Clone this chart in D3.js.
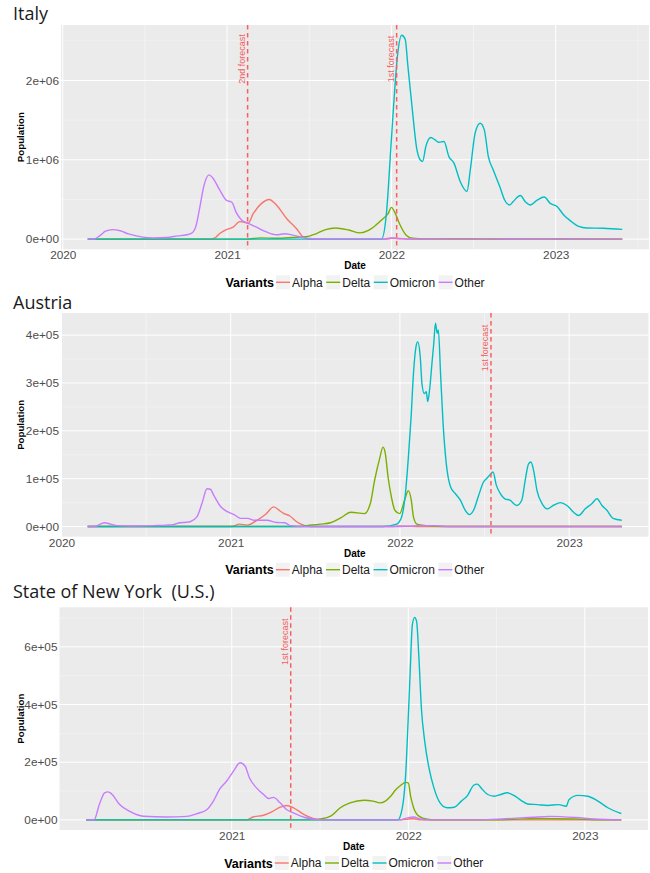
<!DOCTYPE html>
<html><head><meta charset="utf-8">
<script src="https://cdn.jsdelivr.net/npm/d3@7"></script>
<style>body{margin:0;background:#fff} svg{display:block}</style>
</head><body><svg id="chart" width="650" height="873"></svg>
<script>
// ---------- data (time in decimal years, values = population) ----------
const variants = ["Alpha", "Delta", "Omicron", "Other"];
const variantColors = ["#F8766D", "#7CAE00", "#00BFC4", "#C77CFF"];
const yearTicks = [2020, 2021, 2022, 2023];

// Italy
const italyAlpha = [[2020.152,0],[2020.90,0],[2020.93,20000],[2020.955,70000],[2020.996,120000],[2021.037,150000],[2021.077,220000],[2021.10,215000],[2021.128,200000],[2021.159,320000],[2021.21,450000],[2021.256,500000],[2021.30,430000],[2021.362,260000],[2021.423,130000],[2021.464,25000],[2021.50,3000],[2021.55,0],[2021.97,0],[2022.0,10000],[2022.05,5000],[2022.10,0],[2023.405,0]];
const italyDelta = [[2020.152,0],[2021.12,0],[2021.20,15000],[2021.30,10000],[2021.40,20000],[2021.48,30000],[2021.545,70000],[2021.60,120000],[2021.66,140000],[2021.74,115000],[2021.81,78000],[2021.86,110000],[2021.89,150000],[2021.95,260000],[2021.98,320000],[2022.0,400000],[2022.02,340000],[2022.05,190000],[2022.09,50000],[2022.13,10000],[2022.20,3000],[2022.50,5000],[2022.60,2000],[2023.405,0]];
const italyOmicron = [[2020.152,0],[2021.94,0],[2021.97,330000],[2021.996,1130000],[2022.016,1760000],[2022.037,2310000],[2022.063,2570000],[2022.084,2520000],[2022.10,2190000],[2022.125,1680000],[2022.155,1130000],[2022.175,1000000],[2022.19,980000],[2022.21,1170000],[2022.24,1280000],[2022.266,1250000],[2022.29,1220000],[2022.32,1230000],[2022.35,1040000],[2022.38,960000],[2022.42,720000],[2022.46,600000],[2022.48,870000],[2022.51,1340000],[2022.54,1460000],[2022.565,1380000],[2022.59,1040000],[2022.62,870000],[2022.66,660000],[2022.69,490000],[2022.72,430000],[2022.74,470000],[2022.785,550000],[2022.815,470000],[2022.846,430000],[2022.887,490000],[2022.93,530000],[2022.967,450000],[2023.008,410000],[2023.05,300000],[2023.09,230000],[2023.14,160000],[2023.19,140000],[2023.29,136000],[2023.405,123000]];
const italyOther = [[2020.152,0],[2020.19,2000],[2020.23,50000],[2020.26,100000],[2020.303,120000],[2020.35,105000],[2020.40,65000],[2020.486,25000],[2020.55,15000],[2020.632,20000],[2020.70,40000],[2020.754,55000],[2020.785,75000],[2020.81,160000],[2020.834,400000],[2020.86,680000],[2020.89,810000],[2020.913,770000],[2020.955,620000],[2020.996,490000],[2021.029,465000],[2021.057,330000],[2021.088,240000],[2021.126,200000],[2021.179,150000],[2021.24,90000],[2021.301,55000],[2021.352,68000],[2021.40,50000],[2021.46,20000],[2021.52,5000],[2021.60,0],[2021.95,0],[2022.0,15000],[2022.05,8000],[2022.10,2000],[2022.50,3000],[2022.70,2000],[2023.405,0]];
const italyYTicks = [0, 1000000, 2000000];
const italyForecastDates = [2021.125, 2022.032];
const italyForecastLabels = ["2nd forecast", "1st forecast"];
const italyForecastLabelValue = 2270000;

// Austria
const austriaAlpha = [[2020.155,0],[2021.0,0],[2021.02,1000],[2021.05,5000],[2021.10,3000],[2021.155,13000],[2021.205,25000],[2021.254,41000],[2021.29,33000],[2021.31,28000],[2021.35,22000],[2021.39,10000],[2021.43,3000],[2021.47,0],[2021.95,0],[2022.0,1000],[2022.05,500],[2022.10,0],[2023.311,0]];
const austriaDelta = [[2020.155,0],[2021.40,0],[2021.45,2000],[2021.53,5000],[2021.59,8000],[2021.65,18000],[2021.71,30000],[2021.79,27000],[2021.825,48000],[2021.85,96000],[2021.88,142000],[2021.90,166000],[2021.914,152000],[2021.93,103000],[2021.95,61000],[2021.97,34000],[2021.998,27000],[2022.03,58000],[2022.05,75000],[2022.067,55000],[2022.08,20000],[2022.10,5000],[2022.16,2000],[2022.26,0],[2023.311,0]];
const austriaOmicron = [[2020.155,0],[2021.90,0],[2021.98,5000],[2022.01,20000],[2022.03,61000],[2022.05,145000],[2022.066,229000],[2022.08,320000],[2022.095,376000],[2022.105,386000],[2022.12,355000],[2022.13,299000],[2022.144,278000],[2022.156,282000],[2022.164,261000],[2022.175,285000],[2022.19,344000],[2022.20,383000],[2022.21,425000],[2022.22,404000],[2022.227,411000],[2022.24,320000],[2022.255,215000],[2022.274,131000],[2022.30,82000],[2022.327,69000],[2022.357,55000],[2022.386,34000],[2022.41,25000],[2022.435,34000],[2022.465,65000],[2022.494,93000],[2022.514,101000],[2022.53,107000],[2022.55,114000],[2022.57,86000],[2022.593,69000],[2022.62,58000],[2022.65,55000],[2022.69,44000],[2022.72,55000],[2022.74,96000],[2022.76,131000],[2022.774,135000],[2022.79,117000],[2022.81,75000],[2022.84,48000],[2022.87,37000],[2022.91,45000],[2022.947,50000],[2022.987,44000],[2023.026,30000],[2023.056,23000],[2023.095,37000],[2023.135,48000],[2023.164,58000],[2023.194,44000],[2023.223,34000],[2023.26,17000],[2023.311,13000]];
const austriaOther = [[2020.155,0],[2020.20,500],[2020.23,5000],[2020.254,8000],[2020.29,5000],[2020.33,2000],[2020.41,1000],[2020.55,2000],[2020.62,3000],[2020.66,4000],[2020.70,8000],[2020.74,9000],[2020.76,10000],[2020.80,20000],[2020.83,48000],[2020.86,79000],[2020.88,78000],[2020.90,65000],[2020.94,42000],[2020.98,31000],[2021.02,25000],[2021.06,17000],[2021.10,17000],[2021.14,13000],[2021.215,13000],[2021.27,8500],[2021.32,8000],[2021.35,2000],[2021.40,500],[2021.45,0],[2022.0,0],[2022.10,1500],[2022.20,2000],[2022.28,0],[2023.311,0]];
const austriaYTicks = [0, 100000, 200000, 300000, 400000];
const austriaForecastDates = [2022.538];
const austriaForecastLabels = ["1st forecast"];
const austriaForecastLabelValue = 373000;

// State of New York
const nyAlpha = [[2020.176,0],[2021.085,0],[2021.12,10000],[2021.18,16000],[2021.227,28000],[2021.274,44000],[2021.31,50000],[2021.35,42000],[2021.41,18000],[2021.46,5000],[2021.50,0],[2021.96,0],[2022.0,3000],[2022.03,4000],[2022.07,0],[2023.206,0]];
const nyDelta = [[2020.176,0],[2021.45,0],[2021.50,3000],[2021.56,13000],[2021.615,42000],[2021.67,59000],[2021.75,68000],[2021.80,65000],[2021.84,59000],[2021.87,65000],[2021.90,82000],[2021.93,105000],[2021.956,119000],[2021.985,130000],[2022.0,128000],[2022.013,82000],[2022.03,42000],[2022.06,13000],[2022.108,2000],[2022.15,0],[2022.45,0],[2022.60,2000],[2022.75,5000],[2022.95,3000],[2023.05,0],[2023.206,0]];
const nyOmicron = [[2020.176,0],[2021.94,0],[2021.966,42000],[2021.985,157000],[2021.998,330000],[2022.01,504000],[2022.023,677000],[2022.036,702000],[2022.047,688000],[2022.06,562000],[2022.074,388000],[2022.093,272000],[2022.117,180000],[2022.145,111000],[2022.18,59000],[2022.22,42000],[2022.26,44000],[2022.30,65000],[2022.335,84000],[2022.37,120000],[2022.39,124000],[2022.42,105000],[2022.45,88000],[2022.486,82000],[2022.524,88000],[2022.56,94000],[2022.60,84000],[2022.64,67000],[2022.676,55000],[2022.73,53000],[2022.79,50000],[2022.85,53000],[2022.894,47000],[2022.91,70000],[2022.96,85000],[2023.017,82000],[2023.074,65000],[2023.13,42000],[2023.206,22000]];
const nyOther = [[2020.176,0],[2020.22,0],[2020.25,53000],[2020.28,94000],[2020.30,97000],[2020.32,90000],[2020.365,53000],[2020.42,30000],[2020.50,12500],[2020.63,10000],[2020.744,12000],[2020.80,21000],[2020.86,36000],[2020.896,65000],[2020.93,105000],[2020.97,134000],[2021.01,169000],[2021.047,198000],[2021.076,186000],[2021.10,146000],[2021.14,111000],[2021.18,88000],[2021.21,74000],[2021.236,78000],[2021.274,59000],[2021.31,36000],[2021.35,24000],[2021.41,9000],[2021.46,3000],[2021.52,0],[2021.95,0],[2022.0,8000],[2022.03,10000],[2022.07,3000],[2022.12,0],[2022.40,0],[2022.55,4000],[2022.70,9000],[2022.80,12000],[2022.95,8000],[2023.05,3000],[2023.206,0]];
const nyYTicks = [0, 200000, 400000, 600000];
const nyForecastDates = [2021.334];
const nyForecastLabels = ["1st forecast"];
const nyForecastLabelValue = 618000;

// ---------- layout ----------
const panels = [
  {title: "Italy", titleY: 20, top: 25, bottom: 249.3, left: 61, right: 649,
   series: [italyAlpha, italyDelta, italyOmicron, italyOther], yTicks: italyYTicks,
   fDates: italyForecastDates, fLabels: italyForecastLabels, fValue: italyForecastLabelValue},
  {title: "Austria", titleY: 309, top: 313, bottom: 536.7, left: 61, right: 648.5,
   series: [austriaAlpha, austriaDelta, austriaOmicron, austriaOther], yTicks: austriaYTicks,
   fDates: austriaForecastDates, fLabels: austriaForecastLabels, fValue: austriaForecastLabelValue},
  {title: "State of New York\u00a0\u00a0(U.S.)", titleY: 597.7, top: 607.3, bottom: 830, left: 59.5, right: 648,
   series: [nyAlpha, nyDelta, nyOmicron, nyOther], yTicks: nyYTicks,
   fDates: nyForecastDates, fLabels: nyForecastLabels, fValue: nyForecastLabelValue}
];

const svg = d3.select("#chart");
const sans = "'Liberation Sans', Arial, Helvetica, sans-serif";

function sci(v) {
  if (v === 0) return "0e+00";
  const e = Math.floor(Math.log10(v));
  const m = Math.round(v / Math.pow(10, e));
  return m + "e+" + String(e).padStart(2, "0");
}

panels.forEach(p => {
  const g = svg.append("g");
  const all = p.series.flat();
  const tExt = d3.extent(all, d => d[0]);
  const tPad = (tExt[1] - tExt[0]) * 0.05;
  const vMax = d3.max(all, d => d[1]);
  const vPad = vMax * 0.05;
  const x = d3.scaleLinear().domain([tExt[0] - tPad, tExt[1] + tPad]).range([p.left, p.right]);
  const y = d3.scaleLinear().domain([-vPad, vMax + vPad]).range([p.bottom, p.top]);
  const [d0, d1] = x.domain();

  // title
  g.append("text").attr("x", 13).attr("y", p.titleY)
    .attr("font-family", "'Open Sans', 'Noto Sans', sans-serif").attr("font-size", 18)
    .attr("fill", "#1a1a1a").text(p.title);

  // panel background
  g.append("rect").attr("x", p.left).attr("y", p.top)
    .attr("width", p.right - p.left).attr("height", p.bottom - p.top).attr("fill", "#EBEBEB");

  // grid
  const xMajor = yearTicks.filter(t => t >= d0 - 0.01 && t <= d1);
  const xMinor = yearTicks.map(t => t + 0.5).concat(yearTicks.map(t => t - 0.5)).filter(t => t > d0 && t < d1);
  const step = p.yTicks[1] - p.yTicks[0];
  const yMinor = p.yTicks.map(t => t + step / 2).filter(t => t < vMax + vPad);
  g.selectAll(null).data(xMinor).join("line")
    .attr("x1", d => x(d)).attr("x2", d => x(d)).attr("y1", p.top).attr("y2", p.bottom)
    .attr("stroke", "#F5F5F5").attr("stroke-width", 0.6);
  g.selectAll(null).data(yMinor).join("line")
    .attr("y1", d => y(d)).attr("y2", d => y(d)).attr("x1", p.left).attr("x2", p.right)
    .attr("stroke", "#F5F5F5").attr("stroke-width", 0.6);
  g.selectAll(null).data(xMajor).join("line")
    .attr("x1", d => x(d)).attr("x2", d => x(d)).attr("y1", p.top).attr("y2", p.bottom)
    .attr("stroke", "#fff").attr("stroke-width", 1);
  g.selectAll(null).data(p.yTicks).join("line")
    .attr("y1", d => y(d)).attr("y2", d => y(d)).attr("x1", p.left).attr("x2", p.right)
    .attr("stroke", "#fff").attr("stroke-width", 1);

  // axes
  const xa = g.append("g").attr("transform", `translate(0,${p.bottom})`)
    .call(d3.axisBottom(x).tickValues(xMajor).tickFormat(d3.format("d")).tickSize(0).tickPadding(9.5));
  xa.select(".domain").remove();
  xa.selectAll("text").attr("font-family", sans).attr("font-size", 11.8).attr("fill", "#4D4D4D").attr("dy", "0.71em").attr("y", 1.5);
  const ya = g.append("g").attr("transform", `translate(${p.left},0)`)
    .call(d3.axisLeft(y).tickValues(p.yTicks).tickFormat(sci).tickSize(0).tickPadding(2));
  ya.select(".domain").remove();
  ya.selectAll("text").attr("font-family", sans).attr("font-size", 11.8).attr("fill", "#4D4D4D");

  // axis titles
  g.append("text").attr("transform", `translate(24,${(p.top + p.bottom) / 2}) rotate(-90)`)
    .attr("text-anchor", "middle").attr("font-family", sans).attr("font-weight", "bold")
    .attr("font-size", 9.7).attr("fill", "#000").text("Population");
  g.append("text").attr("x", (p.left + p.right) / 2).attr("y", p.bottom + 20)
    .attr("text-anchor", "middle").attr("font-family", sans).attr("font-weight", "bold")
    .attr("font-size", 10).attr("fill", "#000").text("Date");

  // lines
  const line = d3.line().x(d => x(d[0])).y(d => y(d[1])).curve(d3.curveMonotoneX);
  p.series.forEach((s, i) => {
    g.append("path").datum(s).attr("d", line).attr("fill", "none")
      .attr("stroke", variantColors[i]).attr("stroke-width", 1.4).attr("stroke-linejoin", "round");
  });

  // forecast lines
  p.fDates.forEach((t, i) => {
    g.append("line").attr("x1", x(t)).attr("x2", x(t)).attr("y1", p.top).attr("y2", p.bottom)
      .attr("stroke", "#F8605F").attr("stroke-width", 1.5).attr("stroke-dasharray", "4.5,3.5");
    g.append("text").attr("transform", `translate(${x(t) - 2.5},${y(p.fValue)}) rotate(-90)`)
      .attr("text-anchor", "middle").attr("font-family", sans).attr("font-size", 9)
      .attr("fill", "#F35C5E").text(p.fLabels[i]);
  });

  // legend
  const ly = p.bottom + 33;
  const lg = g.append("g");
  let cx = 0;
  const ttl = lg.append("text").attr("x", cx).attr("y", ly).attr("dy", "0.36em")
    .attr("font-family", sans).attr("font-weight", "bold").attr("font-size", 12.5).attr("fill", "#000").text("Variants");
  cx += ttl.node().getComputedTextLength() + 2;
  variants.forEach((v, i) => {
    lg.append("rect").attr("x", cx).attr("y", ly - 7).attr("width", 14).attr("height", 14).attr("fill", "#F2F2F2");
    lg.append("line").attr("x1", cx).attr("x2", cx + 14).attr("y1", ly).attr("y2", ly)
      .attr("stroke", variantColors[i]).attr("stroke-width", 1.4);
    cx += 16;
    const t = lg.append("text").attr("x", cx).attr("y", ly).attr("dy", "0.36em")
      .attr("font-family", sans).attr("font-size", 12).attr("fill", "#1a1a1a").text(v);
    cx += t.node().getComputedTextLength() + (i < variants.length - 1 ? 3.5 : 0);
  });
  lg.attr("transform", `translate(${(p.left + p.right) / 2 - cx / 2},0)`);
});
</script>
</body></html>
